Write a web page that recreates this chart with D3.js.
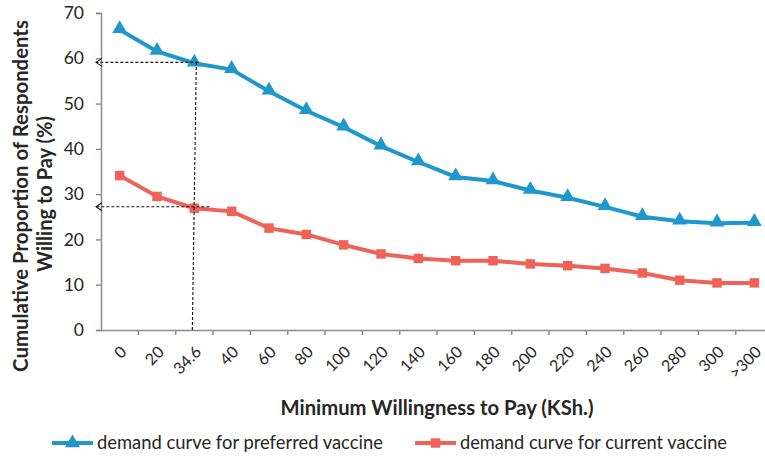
<!DOCTYPE html>
<html>
<head>
<meta charset="utf-8">
<script src="https://cdn.jsdelivr.net/npm/d3@7"></script>
<style>
  body { margin: 0; background: #fff; }
  text { font-family: Lato, "Open Sans", sans-serif; fill: #262626; }
</style>
</head>
<body>
<div id="chart"></div>
<script>
// chart data
var categories = ["0", "20", "34.6", "40", "60", "80", "100", "120", "140", "160",
  "180", "200", "220", "240", "260", "280", "300", ">300"];
var preferred = [66.3, 61.5, 58.9, 57.5, 52.7, 48.4, 44.8, 40.6, 37.1, 33.8,
  32.9, 30.8, 29.2, 27.2, 25.0, 24.0, 23.6, 23.7];
var current = [34.1, 29.5, 26.9, 26.2, 22.5, 21.1, 18.8, 16.8, 15.8, 15.3,
  15.3, 14.6, 14.2, 13.6, 12.6, 11.0, 10.4, 10.4];
var yTicks = [0, 10, 20, 30, 40, 50, 60, 70];
var seriesNames = ["demand curve for preferred vaccine", "demand curve for current vaccine"];
// reading lines drawn at 34.6 KSh.
var markedCategory = "34.6";
var markedValues = [59.1, 27.2];

var svgWidth = 765;
var svgHeight = 456;

var margin = { top: 13, left: 101 };
var width = 672;   // plot runs a bit past the right edge, as in the original
var height = 317;

var blue = "#1e98cc";
var red = "#ef6259";
var axisGray = "#8c8c8c";

// shrink or grow a text's font so it spans the wanted width
function fitWidth(sel, target) {
  sel.each(function() {
    var size = parseFloat(d3.select(this).style("font-size"));
    var len = this.getComputedTextLength();
    d3.select(this).style("font-size", (size * target / len) + "px");
  });
}

var svg = d3.select("#chart")
  .append("svg")
  .attr("width", svgWidth)
  .attr("height", svgHeight);

var chartGroup = svg.append("g")
  .attr("transform", `translate(${margin.left}, ${margin.top})`);

// scales
var xScale = d3.scaleBand()
  .domain(categories)
  .range([0, width]);

var yScale = d3.scaleLinear()
  .domain([0, 70])
  .range([height, 0]);

var xc = c => xScale(c) + xScale.bandwidth() / 2;

// y axis
var leftAxis = d3.axisLeft(yScale).tickValues(yTicks).tickSize(5).tickPadding(12);
var yAxisG = chartGroup.append("g").call(leftAxis);
yAxisG.select(".domain").attr("stroke", axisGray).attr("stroke-width", 1.5);
yAxisG.selectAll(".tick line").attr("stroke", axisGray).attr("stroke-width", 1.5);
yAxisG.selectAll(".tick text")
  .style("font-size", "17.5px")
  .style("font-family", "Lato, sans-serif")
  .attr("fill", "#333");

// x axis with ticks on the band edges
var bottomAxis = d3.axisBottom(xScale).tickSize(0).tickFormat("");
var xAxisG = chartGroup.append("g")
  .attr("transform", `translate(0, ${height})`)
  .call(bottomAxis);
xAxisG.select(".domain").attr("stroke", axisGray).attr("stroke-width", 1.5);

xAxisG.selectAll("line.edge")
  .data(categories)
  .enter()
  .append("line")
  .attr("class", "edge")
  .attr("x1", c => xScale(c) + xScale.bandwidth())
  .attr("x2", c => xScale(c) + xScale.bandwidth())
  .attr("y1", 0)
  .attr("y2", 5)
  .attr("stroke", axisGray)
  .attr("stroke-width", 1.5);

xAxisG.selectAll("text.lbl")
  .data(categories)
  .enter()
  .append("text")
  .attr("class", "lbl")
  .attr("text-anchor", "end")
  .attr("transform", c => `translate(${xc(c) + 8}, 23) rotate(-45)`)
  .style("font-size", "16px")
  .attr("fill", "#333")
  .text(c => c);

// lines
var line = d3.line()
  .x((d, i) => xc(categories[i]))
  .y(d => yScale(d));

chartGroup.append("path")
  .datum(preferred)
  .attr("fill", "none")
  .attr("stroke", blue)
  .attr("stroke-width", 4)
  .attr("d", line);

chartGroup.append("path")
  .datum(current)
  .attr("fill", "none")
  .attr("stroke", red)
  .attr("stroke-width", 4)
  .attr("d", line);

var tri = d3.symbol().type(d3.symbolTriangle).size(95);
var sq = d3.symbol().type(d3.symbolSquare).size(90);

chartGroup.selectAll("path.tri")
  .data(preferred)
  .enter()
  .append("path")
  .attr("class", "tri")
  .attr("d", tri)
  .attr("transform", (d, i) => `translate(${xc(categories[i])}, ${yScale(d) - 1})`)
  .attr("fill", blue);

chartGroup.selectAll("path.sq")
  .data(current)
  .enter()
  .append("path")
  .attr("class", "sq")
  .attr("d", sq)
  .attr("transform", (d, i) => `translate(${xc(categories[i])}, ${yScale(d)})`)
  .attr("fill", red);

// dashed reading lines with open arrow heads
var mx = xc(markedCategory);
var dash = chartGroup.append("g")
  .attr("stroke", "#111")
  .attr("stroke-width", 1.1)
  .attr("stroke-dasharray", "3,2")
  .attr("fill", "none");

dash.append("line")
  .attr("x1", mx - 2).attr("y1", height)
  .attr("x2", mx + 2).attr("y2", yScale(markedValues[0]) - 1);

dash.append("line")
  .attr("x1", mx + 4).attr("y1", yScale(markedValues[0]))
  .attr("x2", -4).attr("y2", yScale(markedValues[0]));

dash.append("line")
  .attr("x1", mx + 15).attr("y1", yScale(markedValues[1]))
  .attr("x2", -4).attr("y2", yScale(markedValues[1]));

markedValues.forEach(function(v) {
  chartGroup.append("path")
    .attr("d", `M1,${yScale(v) - 4} L-5,${yScale(v)} L1,${yScale(v) + 4}`)
    .attr("stroke", "#111")
    .attr("stroke-width", 1.1)
    .attr("fill", "none");
});

// axis titles
var yTitle1 = svg.append("text")
  .attr("transform", "translate(28, 196) rotate(-90)")
  .attr("text-anchor", "middle")
  .style("font-size", "18px")
  .style("font-weight", "bold")
  .text("Cumulative Proportion of Respondents");
fitWidth(yTitle1, 352);

var yTitle2 = svg.append("text")
  .attr("transform", "translate(52, 194) rotate(-90)")
  .attr("text-anchor", "middle")
  .style("font-size", "18px")
  .style("font-weight", "bold")
  .text("Willing to Pay (%)");
fitWidth(yTitle2, 156);

var xTitle = svg.append("text")
  .attr("x", 437)
  .attr("y", 415)
  .attr("text-anchor", "middle")
  .style("font-size", "18px")
  .style("font-weight", "bold")
  .text("Minimum Willingness to Pay (KSh.)");
fitWidth(xTitle, 313);

// legend
var legendItems = [
  { name: seriesNames[0], color: blue, sym: tri, x: 52, w: 286 },
  { name: seriesNames[1], color: red, sym: sq, x: 415, w: 267 }
];

var legend = svg.selectAll("g.legend")
  .data(legendItems)
  .enter()
  .append("g")
  .attr("class", "legend")
  .attr("transform", d => `translate(${d.x}, 443)`);

legend.append("line")
  .attr("x1", 0).attr("x2", 41)
  .attr("stroke", d => d.color)
  .attr("stroke-width", 4);

legend.append("path")
  .attr("d", d => d.sym())
  .attr("transform", "translate(20.5, 0)")
  .attr("fill", d => d.color);

legend.append("text")
  .attr("x", 45)
  .attr("y", 6)
  .style("font-size", "17px")
  .text(d => d.name)
  .each(function(d) { fitWidth(d3.select(this), d.w); });
</script>
</body>
</html>
